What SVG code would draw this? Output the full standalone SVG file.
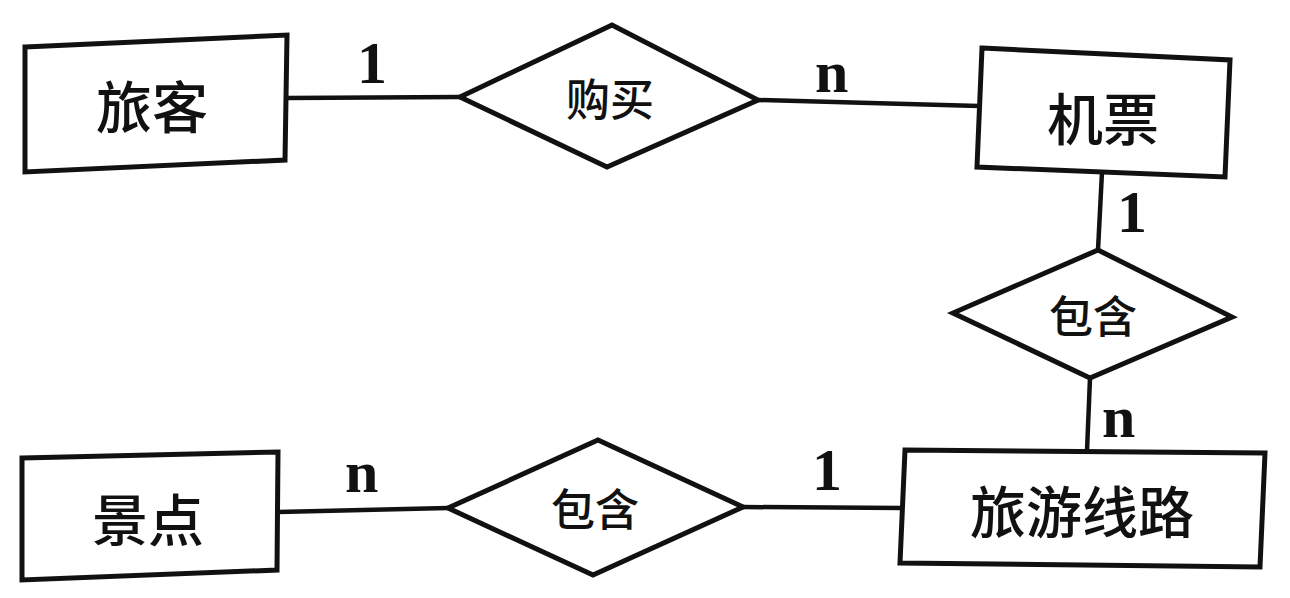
<svg xmlns="http://www.w3.org/2000/svg" width="1290" height="598" viewBox="0 0 1290 598">
<style>
.shape{fill:#fff;stroke:#111;stroke-width:5;stroke-linejoin:miter}
.conn{stroke:#111;stroke-width:4.5;fill:none}
.ent{font-family:"Noto Sans CJK SC","Liberation Sans",sans-serif;font-weight:500;font-size:56px;fill:#111;text-anchor:middle;dominant-baseline:central}
.rel{font-family:"Noto Sans CJK SC","Liberation Sans",sans-serif;font-weight:500;font-size:44px;fill:#111;text-anchor:middle;dominant-baseline:central}
.card{font-family:"Liberation Serif",serif;font-weight:bold;font-size:60px;fill:#111}
</style>
<rect width="1290" height="598" fill="#fff"/>
<g id="connectors">
<line class="conn" x1="287" y1="98" x2="460" y2="97"/>
<line class="conn" x1="758" y1="100" x2="979" y2="106"/>
<line class="conn" x1="1102" y1="172" x2="1098" y2="250"/>
<line class="conn" x1="1090" y1="378" x2="1087" y2="451"/>
<line class="conn" x1="743" y1="507" x2="902" y2="508"/>
<line class="conn" x1="278" y1="512" x2="448" y2="508"/>
</g>
<g id="node-lvke">
<polygon class="shape" points="25,47 287,35 285,160 25,172"/>
<text class="ent" x="152" y="103">旅客</text>
</g>
<g id="node-goumai">
<polygon class="shape" points="460,97 612,25 758,100 607,167"/>
<text class="rel" x="610" y="97">购买</text>
</g>
<g id="node-jipiao">
<polygon class="shape" points="982,48 1230,60 1225,177 977,167"/>
<text class="ent" x="1103" y="115">机票</text>
</g>
<g id="node-baohan1">
<polygon class="shape" points="1098,250 1232,317 1090,378 953,313"/>
<text class="rel" x="1093" y="314">包含</text>
</g>
<g id="node-lvyouxianlu">
<polygon class="shape" points="905,450 1265,453 1260,567 900,563"/>
<text class="ent" x="1082" y="508">旅游线路</text>
</g>
<g id="node-baohan2">
<polygon class="shape" points="448,508 598,440 743,507 593,575"/>
<text class="rel" x="595" y="507">包含</text>
</g>
<g id="node-jingdian">
<polygon class="shape" points="22,458 278,452 277,570 22,580"/>
<text class="ent" x="148" y="516">景点</text>
</g>
<g id="labels">
<text class="card" x="357" y="83">1</text>
<text class="card" x="815" y="92">n</text>
<text class="card" x="1117" y="232">1</text>
<text class="card" x="1102" y="437">n</text>
<text class="card" x="812" y="490">1</text>
<text class="card" x="345" y="492">n</text>
</g>
</svg>
